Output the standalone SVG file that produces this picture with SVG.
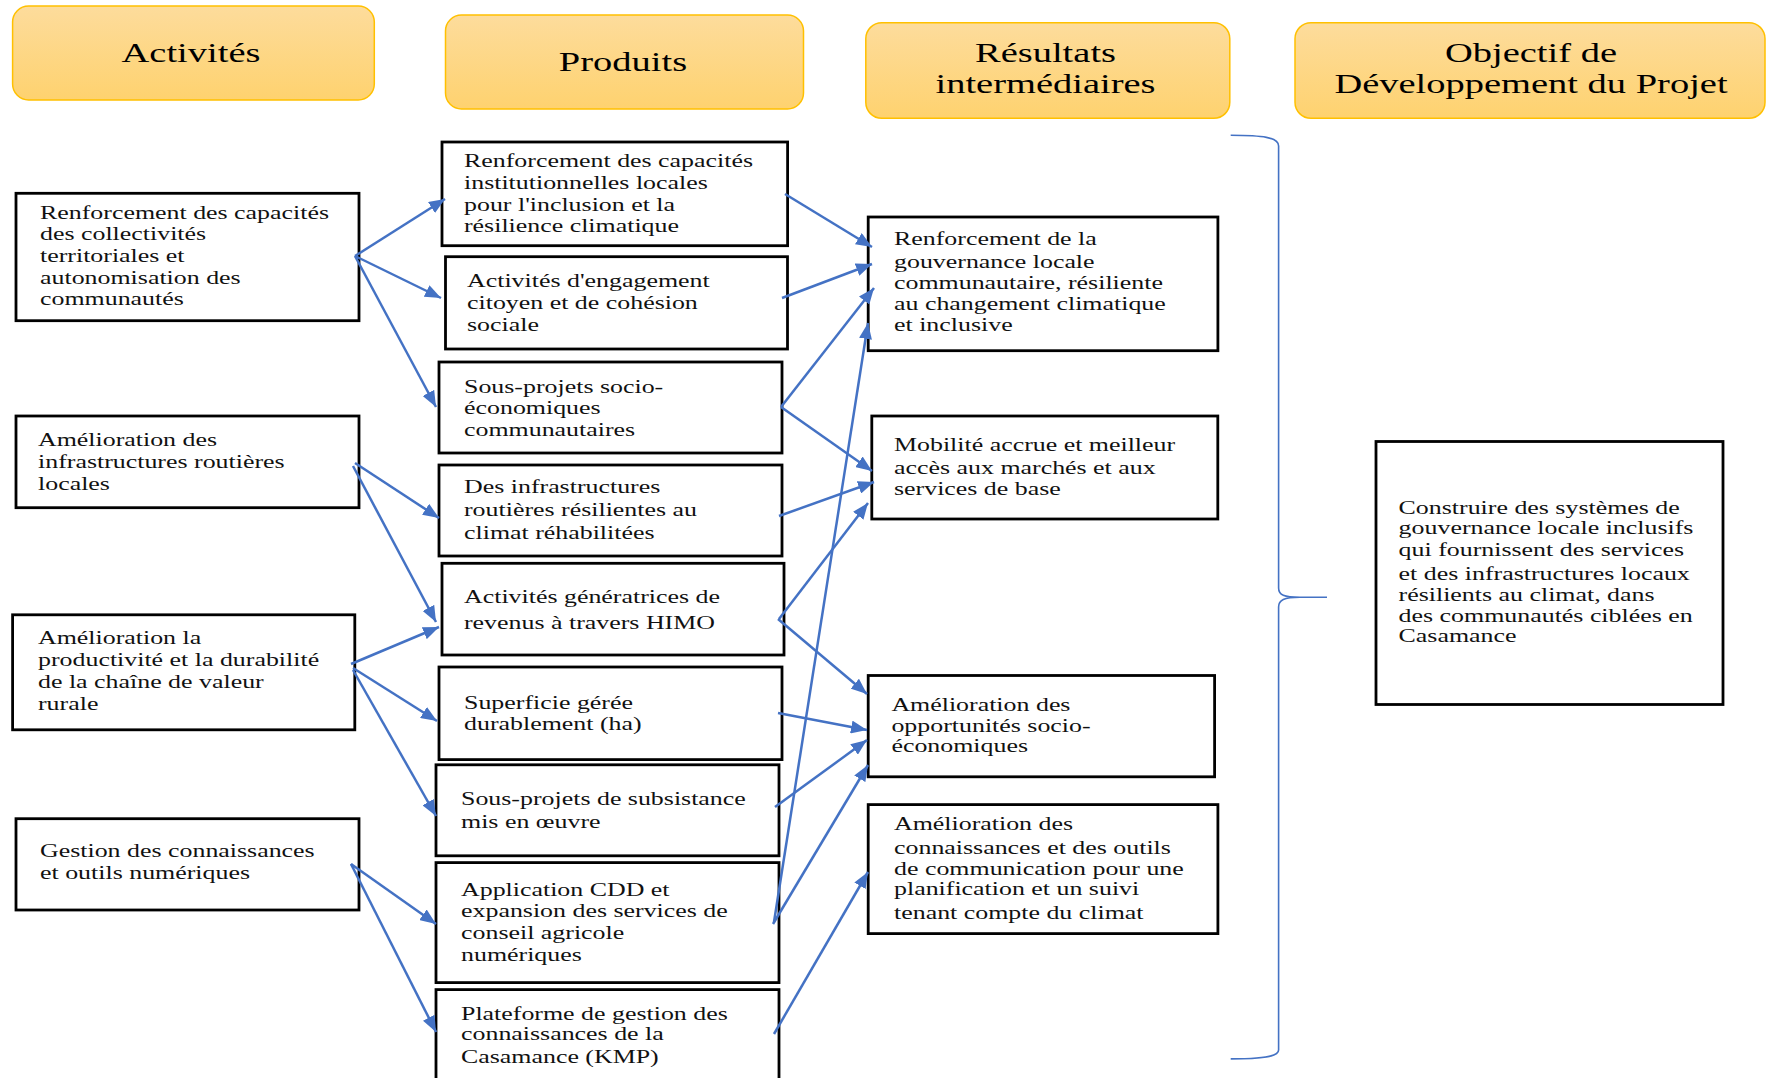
<svg xmlns="http://www.w3.org/2000/svg" width="1767" height="1078" viewBox="0 0 1767 1078">
  <defs>
    <linearGradient id="hdrFill" x1="0" y1="0" x2="0" y2="1">
      <stop offset="0" stop-color="#FDDC9C"/>
      <stop offset="1" stop-color="#FED26F"/>
    </linearGradient>
    <marker id="arrow" markerUnits="userSpaceOnUse" markerWidth="17" markerHeight="13" refX="16" refY="6.5" orient="auto">
      <path d="M0,0 L16,6.5 L0,13 Z" fill="#4472C4"/>
    </marker>
  </defs>
  <style>
    .hdr rect { fill: url(#hdrFill); stroke: #FFC000; stroke-width: 1.5; }
    .hdr text { font-family: "Liberation Serif", "Times New Roman", serif; font-size: 27.5px; fill: #000; text-anchor: middle; }
    .node rect { fill: #fff; stroke: #000; stroke-width: 2.8; }
    .node text { font-family: "Liberation Serif", "Times New Roman", serif; font-size: 18.5px; fill: #111; }
    .links line { stroke: #4472C4; stroke-width: 2.5; marker-end: url(#arrow); }
    .brace { fill: none; stroke: #4472C4; stroke-width: 1.6; }
  </style>
  <rect width="1767" height="1078" fill="#fff"/>

  <!-- column headers -->
  <g id="hdr-activites" class="hdr">
    <rect x="12.6" y="6" width="361.7" height="94" rx="16"/>
    <text transform="translate(191,62) scale(1.4,1)">Activités</text>
  </g>
  <g id="hdr-produits" class="hdr">
    <rect x="445.5" y="15" width="358" height="94" rx="16"/>
    <text transform="translate(623,70.7) scale(1.4,1)">Produits</text>
  </g>
  <g id="hdr-resultats" class="hdr">
    <rect x="865.8" y="22.7" width="364" height="95.6" rx="16"/>
    <text transform="translate(1045.5,62.3) scale(1.4,1)"><tspan x="0" y="0">Résultats</tspan><tspan x="0" y="31">intermédiaires</tspan></text>
  </g>
  <g id="hdr-objectif" class="hdr">
    <rect x="1295" y="22.7" width="470" height="95.6" rx="16"/>
    <text transform="translate(1531,62.3) scale(1.4,1)"><tspan x="0" y="0">Objectif de</tspan><tspan x="0" y="31">Développement du Projet</tspan></text>
  </g>

  <!-- activities -->
  <g id="act-capacites" class="node">
    <rect x="16" y="193.3" width="343" height="127.4"/>
    <text transform="translate(40,218.5) scale(1.4,1)"><tspan x="0" y="0">Renforcement des capacités</tspan><tspan x="0" y="21.7">des collectivités</tspan><tspan x="0" y="43.4">territoriales et</tspan><tspan x="0" y="65.1">autonomisation des</tspan><tspan x="0" y="86.8">communautés</tspan></text>
  </g>
  <g id="act-routes" class="node">
    <rect x="16" y="416" width="343" height="91.7"/>
    <text transform="translate(38,446.2) scale(1.4,1)"><tspan x="0" y="0">Amélioration des</tspan><tspan x="0" y="21.9">infrastructures routières</tspan><tspan x="0" y="44.3">locales</tspan></text>
  </g>
  <g id="act-productivite" class="node">
    <rect x="12.6" y="614.8" width="342.2" height="115"/>
    <text transform="translate(38,644.2) scale(1.4,1)"><tspan x="0" y="0">Amélioration la</tspan><tspan x="0" y="21.6">productivité et la durabilité</tspan><tspan x="0" y="43.6">de la chaîne de valeur</tspan><tspan x="0" y="65.6">rurale</tspan></text>
  </g>
  <g id="act-connaissances" class="node">
    <rect x="16" y="818.7" width="343" height="91.3"/>
    <text transform="translate(40,856.9) scale(1.4,1)"><tspan x="0" y="0">Gestion des connaissances</tspan><tspan x="0" y="22.3">et outils numériques</tspan></text>
  </g>

  <!-- products -->
  <g id="prod-institutions" class="node">
    <rect x="442" y="142" width="345.6" height="103.7"/>
    <text transform="translate(464,167.2) scale(1.4,1)"><tspan x="0" y="0">Renforcement des capacités</tspan><tspan x="0" y="21.7">institutionnelles locales</tspan><tspan x="0" y="43.4">pour l'inclusion et la</tspan><tspan x="0" y="65.1">résilience climatique</tspan></text>
  </g>
  <g id="prod-engagement" class="node">
    <rect x="445.5" y="256.7" width="342" height="92.3"/>
    <text transform="translate(467,287.2) scale(1.4,1)"><tspan x="0" y="0">Activités d'engagement</tspan><tspan x="0" y="21.5">citoyen et de cohésion</tspan><tspan x="0" y="43.5">sociale</tspan></text>
  </g>
  <g id="prod-sousprojets" class="node">
    <rect x="439" y="362" width="343" height="91"/>
    <text transform="translate(464,392.7) scale(1.4,1)"><tspan x="0" y="0">Sous-projets socio-</tspan><tspan x="0" y="21.5">économiques</tspan><tspan x="0" y="43">communautaires</tspan></text>
  </g>
  <g id="prod-infra" class="node">
    <rect x="439" y="465" width="343" height="91"/>
    <text transform="translate(464,492.9) scale(1.4,1)"><tspan x="0" y="0">Des infrastructures</tspan><tspan x="0" y="23.3">routières résilientes au</tspan><tspan x="0" y="46.6">climat réhabilitées</tspan></text>
  </g>
  <g id="prod-himo" class="node">
    <rect x="442" y="563.3" width="342" height="91.7"/>
    <text transform="translate(464,603) scale(1.4,1)"><tspan x="0" y="0">Activités génératrices de</tspan><tspan x="0" y="25.7">revenus à travers HIMO</tspan></text>
  </g>
  <g id="prod-superficie" class="node">
    <rect x="439" y="667" width="343" height="92.6"/>
    <text transform="translate(464,708.7) scale(1.4,1)"><tspan x="0" y="0">Superficie gérée</tspan><tspan x="0" y="21.2">durablement (ha)</tspan></text>
  </g>
  <g id="prod-subsistance" class="node">
    <rect x="436" y="764.8" width="343" height="91"/>
    <text transform="translate(461,805.4) scale(1.4,1)"><tspan x="0" y="0">Sous-projets de subsistance</tspan><tspan x="0" y="22.3">mis en œuvre</tspan></text>
  </g>
  <g id="prod-cdd" class="node">
    <rect x="436" y="862.6" width="343" height="120"/>
    <text transform="translate(461,896.2) scale(1.4,1)"><tspan x="0" y="0">Application CDD et</tspan><tspan x="0" y="20.8">expansion des services de</tspan><tspan x="0" y="42.4">conseil agricole</tspan><tspan x="0" y="64.4">numériques</tspan></text>
  </g>
  <g id="prod-kmp" class="node">
    <rect x="436" y="989.6" width="343" height="100"/>
    <text transform="translate(461,1019.9) scale(1.4,1)"><tspan x="0" y="0">Plateforme de gestion des</tspan><tspan x="0" y="20.6">connaissances de la</tspan><tspan x="0" y="42.9">Casamance (KMP)</tspan></text>
  </g>

  <!-- intermediate results -->
  <g id="res-gouvernance" class="node">
    <rect x="868.2" y="217" width="349.7" height="133.7"/>
    <text transform="translate(894,244.5) scale(1.4,1)"><tspan x="0" y="0">Renforcement de la</tspan><tspan x="0" y="24">gouvernance locale</tspan><tspan x="0" y="45">communautaire, résiliente</tspan><tspan x="0" y="66">au changement climatique</tspan><tspan x="0" y="86.7">et inclusive</tspan></text>
  </g>
  <g id="res-mobilite" class="node">
    <rect x="871.8" y="416" width="346" height="103"/>
    <text transform="translate(894,450.5) scale(1.4,1)"><tspan x="0" y="0">Mobilité accrue et meilleur</tspan><tspan x="0" y="24">accès aux marchés et aux</tspan><tspan x="0" y="44.7">services de base</tspan></text>
  </g>
  <g id="res-opportunites" class="node">
    <rect x="868.2" y="675.5" width="346.4" height="101.3"/>
    <text transform="translate(891.4,711.1) scale(1.4,1)"><tspan x="0" y="0">Amélioration des</tspan><tspan x="0" y="20.6">opportunités socio-</tspan><tspan x="0" y="41.1">économiques</tspan></text>
  </g>
  <g id="res-connaissances" class="node">
    <rect x="868.2" y="804.6" width="349.7" height="129"/>
    <text transform="translate(894,830.2) scale(1.4,1)"><tspan x="0" y="0">Amélioration des</tspan><tspan x="0" y="24">connaissances et des outils</tspan><tspan x="0" y="44.6">de communication pour une</tspan><tspan x="0" y="65.2">planification et un suivi</tspan><tspan x="0" y="88.5">tenant compte du climat</tspan></text>
  </g>

  <!-- project development objective -->
  <g id="objectif" class="node">
    <rect x="1376" y="441.5" width="347" height="263"/>
    <text transform="translate(1398.6,513.5) scale(1.4,1)"><tspan x="0" y="0">Construire des systèmes de</tspan><tspan x="0" y="21">gouvernance locale inclusifs</tspan><tspan x="0" y="42.1">qui fournissent des services</tspan><tspan x="0" y="66.2">et des infrastructures locaux</tspan><tspan x="0" y="87.2">résilients au climat, dans</tspan><tspan x="0" y="108.3">des communautés ciblées en</tspan><tspan x="0" y="128.9">Casamance</tspan></text>
  </g>

  <!-- curly brace grouping the results -->
  <path id="brace" class="brace" d="M1230.7,135.3 C1262,135.5 1278.6,137 1278.6,146 L1278.6,588 C1278.6,595 1284,597.3 1300,597.3 L1327,597.3 M1300,597.3 C1284,597.3 1278.6,600 1278.6,607 L1278.6,1050 C1278.6,1057 1262,1058.9 1230.7,1058.9"/>

  <!-- connectors -->
  <g id="connectors" class="links">
    <line x1="355" y1="256" x2="445" y2="199"/>
    <line x1="355" y1="256" x2="441" y2="298"/>
    <line x1="355" y1="256" x2="436" y2="407"/>
    <line x1="785" y1="194" x2="872" y2="247"/>
    <line x1="782" y1="298" x2="872" y2="264"/>
    <line x1="781" y1="407" x2="874" y2="288"/>
    <line x1="781" y1="407" x2="872" y2="471"/>
    <line x1="779" y1="516" x2="874" y2="482"/>
    <line x1="779" y1="619" x2="868" y2="503"/>
    <line x1="774" y1="922" x2="868" y2="323"/>
    <line x1="778" y1="619" x2="867" y2="694"/>
    <line x1="778" y1="713" x2="867" y2="730"/>
    <line x1="775" y1="807" x2="867" y2="740"/>
    <line x1="773" y1="924" x2="868" y2="765"/>
    <line x1="774" y1="1034" x2="868" y2="872"/>
    <line x1="355" y1="463" x2="439" y2="518"/>
    <line x1="353" y1="466" x2="436" y2="622"/>
    <line x1="351" y1="664" x2="439" y2="627"/>
    <line x1="353" y1="668" x2="437" y2="721"/>
    <line x1="353" y1="670" x2="436" y2="816"/>
    <line x1="351" y1="864" x2="436" y2="924"/>
    <line x1="351" y1="864" x2="436" y2="1032"/>
  </g>
</svg>
